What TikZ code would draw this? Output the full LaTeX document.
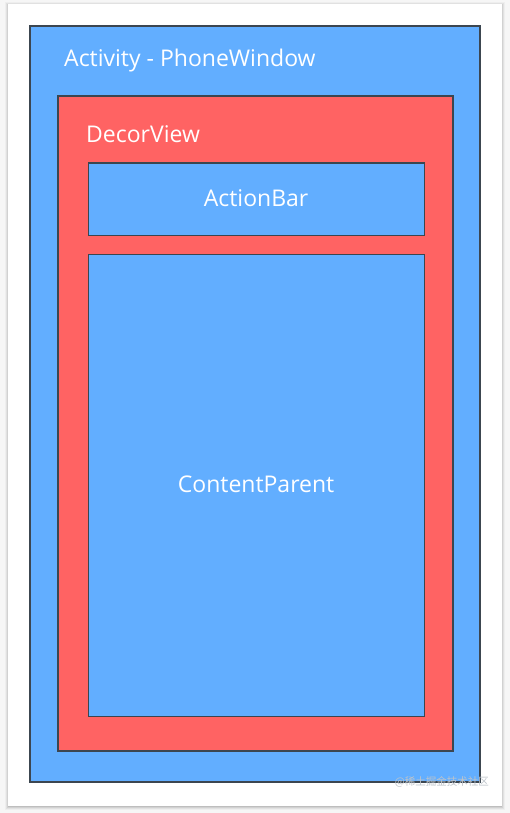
\documentclass[tikz,border=0pt]{standalone}
\usepackage{fontspec}
\setmainfont{Open Sans}
\newfontfamily\cjkfont{Noto Sans CJK SC}
\definecolor{paneblue}{RGB}{98,174,255}
\definecolor{panered}{RGB}{255,99,99}
\definecolor{paneedge}{RGB}{60,70,80}
\definecolor{pagebg}{RGB}{246,246,246}
\definecolor{markgray}{RGB}{190,196,202}
\tikzset{
  pane/.style={draw=paneedge, line width=1.2pt},
  bluepane/.style={pane, fill=paneblue},
  redpane/.style={pane, fill=panered},
  panelabel/.style={text=white, font=\fontsize{23}{26}\selectfont, inner sep=0pt},
}
\begin{document}
\begin{tikzpicture}[x=1pt,y=-1pt]
  % page and card
  \fill[pagebg] (0,0) rectangle (510,813);
  \useasboundingbox (0,0) rectangle (510,813);
  \foreach \d/\o in {4/0.03,3/0.05,2/0.07,1/0.09}{
    \fill[black, opacity=\o] (8-\d+1,4-\d+2) rectangle (502+\d-1,806+\d);
  }
  \fill[white] (8,4) rectangle (502,806);

  % window layers
  \draw[bluepane] (30,26) rectangle (480,782);
  \draw[redpane] (58,96) rectangle (453,751);
  \node[bluepane, minimum width=336pt, minimum height=72pt, anchor=north west] (bar) at (87.5,162.5) {};
  \node[bluepane, minimum width=336pt, minimum height=462pt, anchor=north west] (content) at (87.5,253.5) {};

  % labels
  \node[panelabel, anchor=west] (winlabel) at (64,61) {Activity - PhoneWindow};
  \node[panelabel, anchor=west] (decorlabel) at (86,134) {DecorView};
  \node[panelabel] (barlabel) at ([yshift=1pt]bar.center) {ActionBar};
  \node[panelabel] (contentlabel) at ([yshift=1pt]content.center) {ContentParent};

  % watermark
  \node[text=markgray, font=\cjkfont\fontsize{10.5}{12}\selectfont, anchor=east, inner sep=0pt] (mark) at (489,782) {@稀土掘金技术社区};
\end{tikzpicture}
\end{document}
